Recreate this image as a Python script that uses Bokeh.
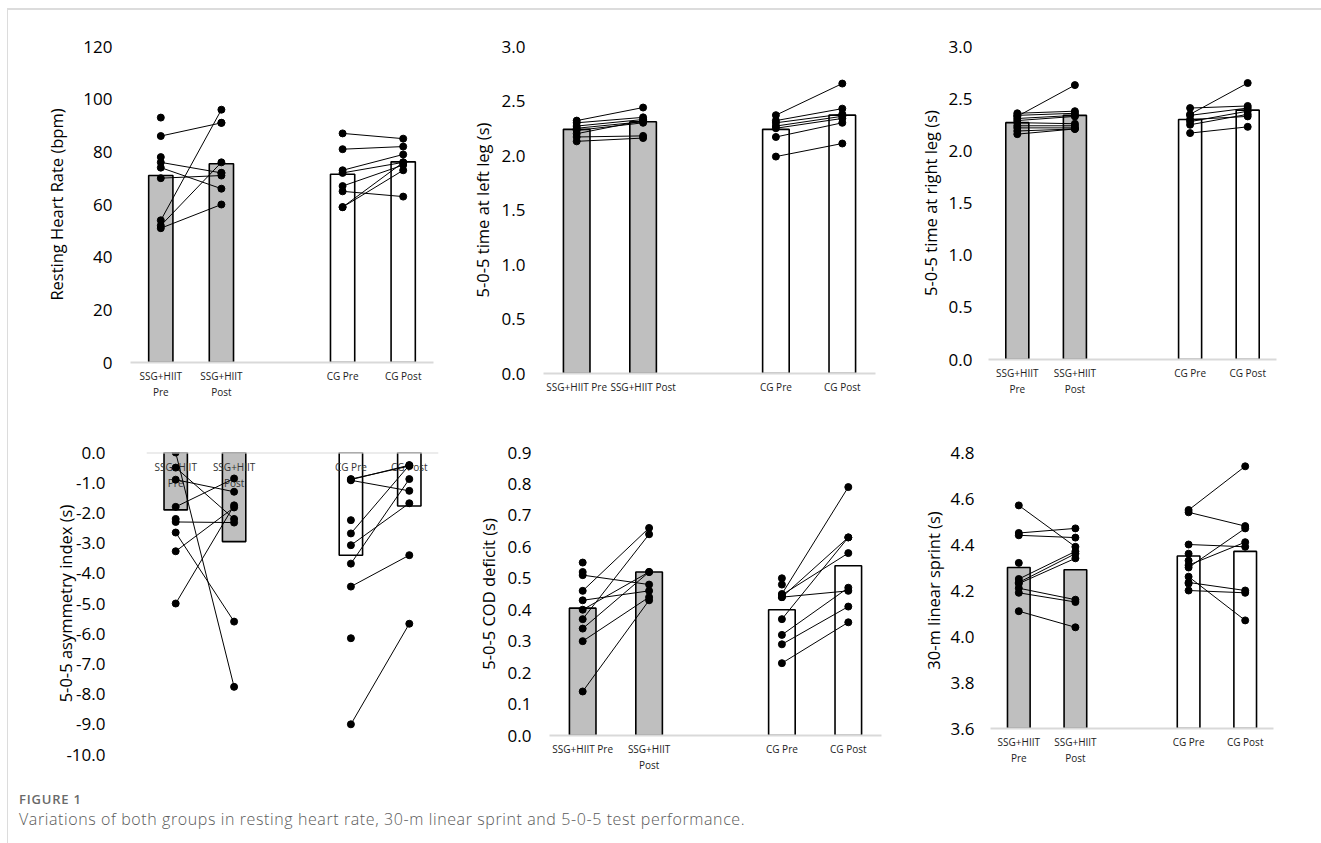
from bokeh.plotting import figure
from bokeh.models import Range1d, FactorRange, FixedTicker, PrintfTickFormatter, Span, Div
from bokeh.layouts import row, column
from bokeh.embed import file_html
from bokeh.resources import INLINE
from bokeh.core.properties import value

FONT = "Open Sans"

# ---------------- data ----------------
GROUPS = ["SSG+HIIT Pre", "SSG+HIIT Post", "CG Pre", "CG Post"]
LABELS_WRAP = ["SSG+HIIT\nPre", "SSG+HIIT\nPost", "CG Pre", "CG Post"]
LABELS_FLAT = ["SSG+HIIT Pre", "SSG+HIIT Post", "CG Pre", "CG Post"]
LABELS_MIX = ["SSG+HIIT Pre", "SSG+HIIT\nPost", "CG Pre", "CG Post"]

# Resting heart rate (bpm)
HR_MEAN = [71.0, 75.5, 71.5, 76.2]
HR_SSG_PRE = [86, 76, 74, 70, 54, 52, 51, 93, 78, None, None]
HR_SSG_POST = [91, 72, 66, 71, 96, 76, 60, None, None, 91, 72]
HR_CG_PRE = [87, 81, 73, 72, 67, 65, 59, 59]
HR_CG_POST = [85, 82, 79, 76, 75, 63, 76, 73]

# 5-0-5 time at left leg (s)
LL_MEAN = [2.24, 2.31, 2.24, 2.37]
LL_SSG_PRE = [2.32, 2.30, 2.27, 2.25, 2.23, 2.20, 2.17, 2.13]
LL_SSG_POST = [2.44, 2.35, 2.33, 2.31, 2.30, 2.32, 2.18, 2.16]
LL_CG_PRE = [2.37, 2.32, 2.30, 2.27, 2.25, 2.17, 1.99]
LL_CG_POST = [2.66, 2.43, 2.38, 2.36, 2.34, 2.30, 2.11]

# 5-0-5 time at right leg (s)
RL_MEAN = [2.27, 2.34, 2.30, 2.39]
RL_SSG_PRE = [2.33, 2.36, 2.34, 2.31, 2.29, 2.27, 2.24, 2.22, 2.19, 2.16]
RL_SSG_POST = [2.63, 2.38, 2.36, 2.34, 2.33, 2.26, 2.24, 2.22, 2.21, 2.21]
RL_CG_PRE = [2.35, 2.41, 2.34, 2.28, 2.25, 2.17, 2.30]
RL_CG_POST = [2.65, 2.43, 2.41, 2.38, 2.35, 2.23, 2.33]

# 5-0-5 asymmetry index (s)
AI_MEAN = [-1.90, -2.95, -3.40, -1.77]
AI_SSG_PRE = [0.0, -0.5, -0.9, -1.8, -2.3, -2.65, -3.27, -5.0, -2.2]
AI_SSG_POST = [-7.76, -2.2, -1.3, -0.86, -2.32, -5.6, -1.82, -1.75, None]
AI_CG_PRE = [-0.9, -0.88, -0.92, -2.68, -3.07, -3.68, -4.44, -9.0, -6.15, -2.24]
AI_CG_POST = [-0.42, -0.45, -1.27, -0.42, -1.68, -0.88, -3.4, -5.67, None, None]

# 5-0-5 COD deficit (s)
COD_MEAN = [0.405, 0.52, 0.40, 0.54]
COD_SSG_PRE = [0.46, 0.37, 0.51, 0.43, 0.34, 0.30, 0.14, 0.40, 0.55, 0.52]
COD_SSG_POST = [0.66, 0.64, 0.48, 0.46, 0.52, 0.44, 0.43, 0.52, None, None]
COD_CG_PRE = [0.45, 0.44, 0.447, 0.44, 0.37, 0.32, 0.29, 0.23, 0.50, 0.48]
COD_CG_POST = [0.79, 0.63, 0.58, 0.46, 0.63, 0.47, 0.41, 0.36, None, None]

# 30-m linear sprint (s)
SP_MEAN = [4.30, 4.29, 4.35, 4.37]
SP_SSG_PRE = [4.57, 4.45, 4.44, 4.25, 4.235, 4.21, 4.19, 4.11, 4.32, 4.23]
SP_SSG_POST = [4.39, 4.47, 4.43, 4.37, 4.36, 4.16, 4.15, 4.04, None, 4.34]
SP_CG_PRE = [4.55, 4.54, 4.40, 4.30, 4.31, 4.26, 4.235, 4.20, 4.36, 4.33, 4.23]
SP_CG_POST = [4.74, 4.48, 4.39, 4.47, 4.41, 4.07, 4.20, 4.19, None, None, None]

CAPTION_TITLE = "FIGURE 1"
CAPTION_TEXT = "Variations of both groups in resting heart rate, 30-m linear sprint and 5-0-5 test performance."


def panel(ylabel, labels, means, ssg_pre, ssg_post, cg_pre, cg_post,
          yr, ticks, fmt, fw, fh, bl, br, bt, bb, tick_standoff, label_standoff,
          hanging=False):
    factors = [labels[0], labels[1], " ", labels[2], labels[3]]
    p = figure(x_range=FactorRange(*factors), y_range=Range1d(*yr),
               frame_width=fw, frame_height=fh,
               min_border_left=bl, min_border_right=br, min_border_top=bt, min_border_bottom=bb,
               output_backend="svg", toolbar_location=None)
    p.grid.visible = False
    p.outline_line_color = None
    p.background_fill_color = None
    p.border_fill_color = None

    xs = [labels[0], labels[1], labels[2], labels[3]]
    if hanging:
        p.vbar(x=xs, top=[0] * 4, bottom=means, width=0.4,
               fill_color=["#bfbfbf", "#bfbfbf", "white", "white"],
               line_color="black", line_width=1.6)
        p.add_layout(Span(location=0, dimension="width", line_color="#d9d9d9", line_width=2))
        p.text(x=xs, y=[0] * 4, text=labels, text_align="center", text_baseline="top",
               y_offset=7, text_font=value(FONT), text_font_size="10px", text_color="#333333",
               text_line_height=1.15)
    else:
        p.vbar(x=xs, top=means, bottom=yr[0], width=0.4,
               fill_color=["#bfbfbf", "#bfbfbf", "white", "white"],
               line_color="black", line_width=1.6)

    for pre, post, fa, fb in ((ssg_pre, ssg_post, labels[0], labels[1]),
                              (cg_pre, cg_post, labels[2], labels[3])):
        x0, y0, x1, y1 = [], [], [], []
        for a, b in zip(pre, post):
            if a is not None and b is not None:
                x0.append(fa); y0.append(a); x1.append(fb); y1.append(b)
        p.segment(x0=x0, y0=y0, x1=x1, y1=y1, line_color="black", line_width=1)
        pa = [v for v in pre if v is not None]
        pb = [v for v in post if v is not None]
        p.scatter(x=[fa] * len(pa), y=pa, size=7, marker="circle", fill_color="black", line_color="black")
        p.scatter(x=[fb] * len(pb), y=pb, size=7, marker="circle", fill_color="black", line_color="black")

    ya = p.yaxis[0]
    ya.ticker = FixedTicker(ticks=ticks)
    ya.formatter = PrintfTickFormatter(format=fmt)
    ya.axis_line_color = None
    ya.major_tick_line_color = None
    ya.minor_tick_line_color = None
    ya.major_tick_out = 0
    ya.major_tick_in = 0
    ya.minor_tick_out = 0
    ya.minor_tick_in = 0
    ya.major_label_text_font = FONT
    ya.major_label_text_font_size = "17px"
    ya.major_label_text_color = "#000000"
    ya.major_label_standoff = tick_standoff
    ya.axis_label = ylabel
    ya.axis_label_text_font = FONT
    ya.axis_label_text_font_size = "16.5px"
    ya.axis_label_text_font_style = "normal"
    ya.axis_label_text_color = "#000000"
    ya.axis_label_standoff = label_standoff

    xa = p.xaxis[0]
    if hanging:
        xa.visible = False
    else:
        xa.axis_line_color = "#d9d9d9"
        xa.axis_line_width = 2
        xa.major_tick_line_color = None
        xa.minor_tick_line_color = None
        xa.major_tick_out = 0
        xa.major_tick_in = 0
        xa.minor_tick_out = 0
        xa.minor_tick_in = 0
        xa.major_label_text_font = FONT
        xa.major_label_text_font_size = "10px"
        xa.major_label_text_color = "#222222"
        xa.major_label_standoff = 6
    return p


p1 = panel("Resting Heart Rate (bpm)", LABELS_WRAP, HR_MEAN, HR_SSG_PRE, HR_SSG_POST, HR_CG_PRE, HR_CG_POST,
           (0, 120), [0, 20, 40, 60, 80, 100, 120], "%d",
           303, 316, 122, 34, 34, 60, 18, 12)
p2 = panel("5-0-5 time at left leg (s)", LABELS_FLAT, LL_MEAN, LL_SSG_PRE, LL_SSG_POST, LL_CG_PRE, LL_CG_POST,
           (0, 3), [0, 0.5, 1, 1.5, 2, 2.5, 3], "%.1f",
           332, 327, 72, 40, 35, 48, 18, 5)
p3 = panel("5-0-5 time at right leg (s)", LABELS_WRAP, RL_MEAN, RL_SSG_PRE, RL_SSG_POST, RL_CG_PRE, RL_CG_POST,
           (0, 3), [0, 0.5, 1, 1.5, 2, 2.5, 3], "%.1f",
           288, 313, 72, 50, 36, 61, 16, 4)
p4 = panel("5-0-5 asymmetry index (s)", LABELS_WRAP, AI_MEAN, AI_SSG_PRE, AI_SSG_POST, AI_CG_PRE, AI_CG_POST,
           (-10, 0), [0, -1, -2, -3, -4, -5, -6, -7, -8, -9, -10], "%.1f",
           292, 302, 138, 35, 30, 33, 41, -14, hanging=True)
p5 = panel("5-0-5 COD deficit (s)", LABELS_MIX, COD_MEAN, COD_SSG_PRE, COD_SSG_POST, COD_CG_PRE, COD_CG_POST,
           (0, 0.9), [0, 0.1, 0.2, 0.3, 0.4, 0.5, 0.6, 0.7, 0.8, 0.9], "%.1f",
           332, 283, 72, 37, 26, 56, 18, 5)
p6 = panel("30-m linear sprint (s)", LABELS_WRAP, SP_MEAN, SP_SSG_PRE, SP_SSG_POST, SP_CG_PRE, SP_CG_POST,
           (3.6, 4.8), [3.6, 3.8, 4.0, 4.2, 4.4, 4.6, 4.8], "%.1f",
           283, 276, 72, 52, 32, 57, 16, 3)

caption = Div(
    text=(f"<div style=\"font-family:'Open Sans';font-size:13px;font-weight:600;color:#6a6a6a;"
          f"letter-spacing:0.8px;margin:0 0 0 6px;line-height:18px\">{CAPTION_TITLE}</div>"
          f"<div style=\"font-family:'Open Sans';font-size:16px;font-weight:300;color:#5a5a5a;"
          f"letter-spacing:0.6px;margin:0 0 0 6px;line-height:22px\">{CAPTION_TEXT}</div>"),
    width=1300, height=48)

layout = column(row(p1, p2, p3), row(p4, p5, p6), caption,
                styles={"border-top": "2px solid #dcdcdc", "border-left": "1px solid #dcdcdc",
                        "margin-left": "7px", "margin-top": "8px"})

with open("out.html", "w") as f:
    f.write(file_html(layout, INLINE))
